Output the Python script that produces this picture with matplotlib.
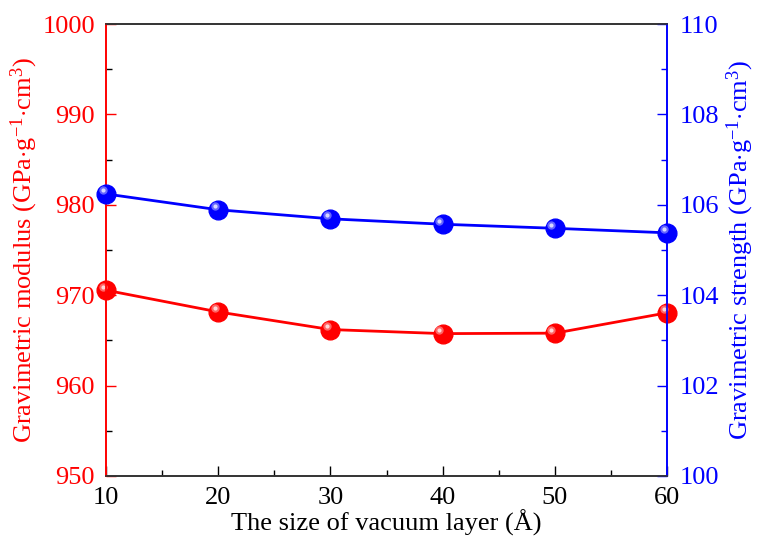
import numpy as np
import matplotlib
matplotlib.use("Agg")
import matplotlib.pyplot as plt
from matplotlib.ticker import MultipleLocator
from matplotlib.transforms import offset_copy

plt.rcParams['font.family'] = ['Liberation Serif', 'DejaVu Serif']
plt.rcParams['mathtext.fontset'] = 'custom'
plt.rcParams['mathtext.rm'] = 'Liberation Serif'
plt.rcParams['mathtext.it'] = 'Liberation Serif:italic'

# data
vacuum = [10, 20, 30, 40, 50, 60]
modulus = [970.55, 968.15, 966.2, 965.75, 965.8, 968.05]
strength = [106.24, 105.89, 105.69, 105.57, 105.48, 105.38]

red = '#ff0000'
blue = '#0000ff'

fig = plt.figure(figsize=(7.59, 5.43), dpi=100)
ax = fig.add_axes([0.1397, 0.1234, 0.7391, 0.8324])
ax2 = ax.twinx()


def balls(a, x, y, col):
    a.plot(x, y, '-', color=col, lw=2.0, marker='o', ms=13.5,
           mfc=col, mec=col, zorder=3, clip_on=False)
    # fake 3d highlight
    tr = offset_copy(a.transData, fig=fig, x=-2.5, y=2.5, units='points')
    a.plot(x, y, 'o', ms=6, mfc='white', mec='none', alpha=0.4,
           transform=tr, zorder=4, clip_on=False)
    a.plot(x, y, 'o', ms=3, mfc='white', mec='none', alpha=0.75,
           transform=tr, zorder=5, clip_on=False)


balls(ax, vacuum, modulus, red)
balls(ax2, vacuum, strength, blue)

ax.set_xlim(10, 60)
ax.set_ylim(950, 1000)
ax2.set_ylim(100, 110)

ax.xaxis.set_major_locator(MultipleLocator(10))
ax.xaxis.set_minor_locator(MultipleLocator(5))
ax.yaxis.set_major_locator(MultipleLocator(10))
ax.yaxis.set_minor_locator(MultipleLocator(5))
ax2.yaxis.set_major_locator(MultipleLocator(2))
ax2.yaxis.set_minor_locator(MultipleLocator(1))

fs = 19
ax.tick_params(axis='both', which='both', direction='in', labelsize=fs, top=False)
ax.tick_params(which='major', length=7, width=1)
ax.tick_params(which='minor', length=4, width=1)
ax.tick_params(axis='x', pad=8)
ax.tick_params(axis='y', colors=red, pad=8)
ax2.tick_params(axis='y', which='both', direction='in', labelsize=fs, colors=blue, pad=9)
ax2.tick_params(which='major', length=7, width=1)
ax2.tick_params(which='minor', length=4, width=1)

for a in (ax, ax2):
    a.spines['top'].set_color('#333333')
    a.spines['bottom'].set_color('#333333')
    for s in a.spines.values():
        s.set_linewidth(1.2)
ax.spines['left'].set_color(red)
ax2.spines['left'].set_color(red)
ax2.spines['right'].set_color(blue)
ax.spines['right'].set_color(blue)

ax.set_xlabel('The size of vacuum layer (Å)', fontsize=fs, labelpad=0)
ax.set_ylabel(r'Gravimetric modulus (GPa$\cdot$g$^{\mathrm{-1}}$$\cdot$cm$^{\mathrm{3}}$)',
              fontsize=fs, color=red, labelpad=2)
ax2.set_ylabel(r'Gravimetric strength (GPa$\cdot$g$^{\mathrm{-1}}$$\cdot$cm$^{\mathrm{3}}$)',
               fontsize=fs, color=blue, labelpad=4)

fig.savefig('out.png', dpi=100)
